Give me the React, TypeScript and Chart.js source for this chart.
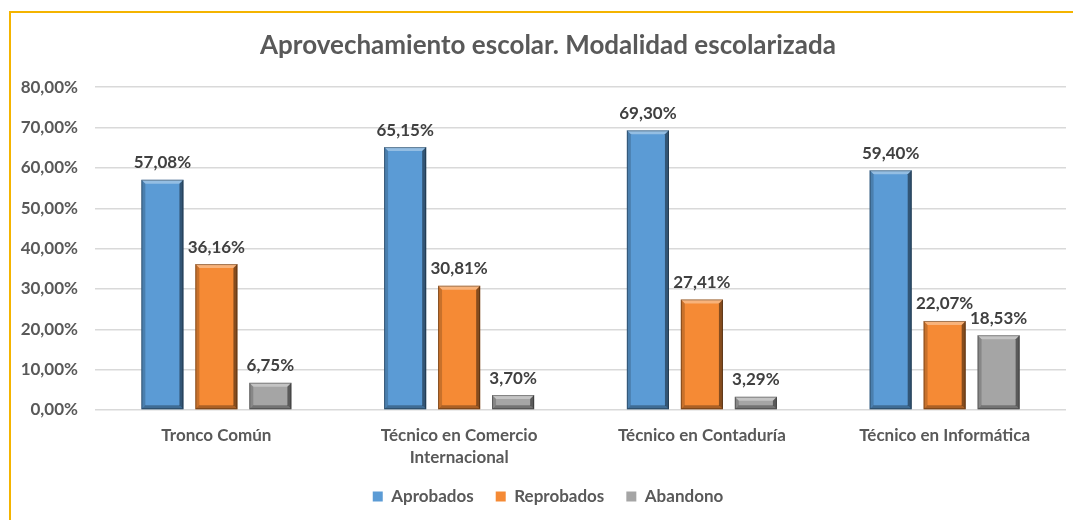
import React, { useEffect, useRef } from "react";
import { Chart, registerables } from "chart.js";

Chart.register(...registerables);

const categories: (string | string[])[] = [
  "Tronco Común",
  ["Técnico en Comercio", "Internacional"],
  "Técnico en Contaduría",
  "Técnico en Informática",
];
const aprobados = [57.08, 65.15, 69.3, 59.4];
const reprobados = [36.16, 30.81, 27.41, 22.07];
const abandono = [6.75, 3.7, 3.29, 18.53];
const seriesNames = ["Aprobados", "Reprobados", "Abandono"];
const seriesColors = ["#5B9BD5", "#F58A35", "#A5A5A5"];
const yMin = 0;
const yMax = 80;
const yStep = 10;

const FONT = "Lato, 'Open Sans', sans-serif";
const TEXT = "#595959";

const fmt = (v: number) => v.toFixed(2).replace(".", ",") + "%";

// let the y tick labels extend into the left layout padding (avoid clipping)
const axisAreaPlugin = {
  id: "axisArea",
  afterLayout(chart: any) {
    if (chart.scales.y) chart.scales.y.left = 0;
  },
};

const bevelPlugin = {
  id: "bevel",
  afterDatasetsDraw(chart: any) {
    const ctx = chart.ctx;
    chart.data.datasets.forEach((_ds: any, di: number) => {
      const meta = chart.getDatasetMeta(di);
      meta.data.forEach((el: any) => {
        const { x, y, base, width } = el.getProps(["x", "y", "base", "width"], true);
        const l = x - width / 2;
        const r = x + width / 2;
        const t = Math.min(y, base);
        const b = Math.max(y, base);
        const bv = Math.min(4, (b - t) / 2);
        const poly = (pts: number[][], fill: string) => {
          ctx.beginPath();
          ctx.moveTo(pts[0][0], pts[0][1]);
          for (let i = 1; i < pts.length; i++) ctx.lineTo(pts[i][0], pts[i][1]);
          ctx.closePath();
          ctx.fillStyle = fill;
          ctx.fill();
        };
        ctx.save();
        poly([[l, t], [r, t], [r - bv, t + bv], [l + bv, t + bv]], "rgba(255,255,255,0.35)");
        poly([[r, t], [r, b], [r - bv, b - bv], [r - bv, t + bv]], "rgba(0,0,0,0.45)");
        poly([[l, b], [r, b], [r - bv, b - bv], [l + bv, b - bv]], "rgba(0,0,0,0.3)");
        poly([[l, t], [l + bv, t + bv], [l + bv, b - bv], [l, b]], "rgba(0,0,0,0.18)");
        ctx.strokeStyle = "rgba(0,0,0,0.35)";
        ctx.lineWidth = 1;
        ctx.strokeRect(l + 0.5, t + 0.5, width - 1, b - t - 1);
        ctx.restore();
      });
    });
  },
};

const labelPlugin = {
  id: "valueLabels",
  afterDatasetsDraw(chart: any) {
    const ctx = chart.ctx;
    ctx.save();
    ctx.font = `bold 17px ${FONT}`;
    ctx.fillStyle = "#404040";
    ctx.textAlign = "center";
    ctx.textBaseline = "middle";
    chart.data.datasets.forEach((ds: any, di: number) => {
      const meta = chart.getDatasetMeta(di);
      meta.data.forEach((el: any, i: number) => {
        const { x, y } = el.getProps(["x", "y"], true);
        ctx.fillText(fmt(ds.data[i]), x, y - 17);
      });
    });
    ctx.restore();
  },
};

export default function App() {
  const ref = useRef<HTMLCanvasElement | null>(null);
  useEffect(() => {
    if (!ref.current) return;
    const chart = new Chart(ref.current, {
      type: "bar",
      data: {
        labels: categories,
        datasets: [aprobados, reprobados, abandono].map((d, i) => ({
          label: seriesNames[i],
          data: d,
          backgroundColor: seriesColors[i],
          borderWidth: 0,
          categoryPercentage: 0.667,
          barPercentage: 0.78,
        })),
      },
      options: {
        animation: false,
        responsive: true,
        maintainAspectRatio: false,
        layout: { padding: { left: 30, right: 7, top: 0, bottom: 5 } },
        plugins: {
          title: {
            display: true,
            text: "Aprovechamiento escolar. Modalidad escolarizada",
            color: TEXT,
            font: { family: FONT, size: 26, weight: "bold", lineHeight: 1.2 },
            padding: { top: 30, bottom: 26 },
          },
          legend: {
            position: "bottom",
            labels: {
              color: TEXT,
              font: { family: FONT, size: 17, weight: "bold" },
              boxWidth: 10,
              boxHeight: 10,
              padding: 22,
            },
          },
          tooltip: { enabled: false },
        },
        scales: {
          x: {
            afterFit: (s: any) => {
              s.height = 56;
            },
            grid: { display: false, drawTicks: false },
            border: { display: false },
            ticks: {
              color: TEXT,
              font: { family: FONT, size: 17, weight: "bold", lineHeight: 1.3 },
              padding: 14,
              maxRotation: 0,
              autoSkip: false,
            },
          },
          y: {
            min: yMin,
            max: yMax,
            afterFit: (s: any) => {
              s.width = 65;
            },
            grid: { color: "#D9D9D9", lineWidth: 1.5, drawTicks: false },
            border: { display: false },
            ticks: {
              stepSize: yStep,
              color: TEXT,
              font: { family: FONT, size: 17, weight: "bold" },
              padding: 17,
              callback: (v: any) => fmt(Number(v)),
            },
          },
        },
      },
      plugins: [axisAreaPlugin, bevelPlugin, labelPlugin],
    });
    return () => chart.destroy();
  }, []);

  return (
    <div
      style={{
        position: "fixed",
        left: 0,
        top: 0,
        width: 1073,
        height: 520,
        background: "#ffffff",
        overflow: "hidden",
      }}
    >
      <div
        style={{
          position: "absolute",
          left: 9,
          top: 11,
          width: 1073,
          height: 520,
          borderTop: "2px solid #F4B400",
          borderLeft: "2px solid #F4B400",
          boxSizing: "border-box",
        }}
      />
      <canvas ref={ref} style={{ position: "absolute", left: 0, top: 0, width: 1073, height: 520 }} />
    </div>
  );
}
